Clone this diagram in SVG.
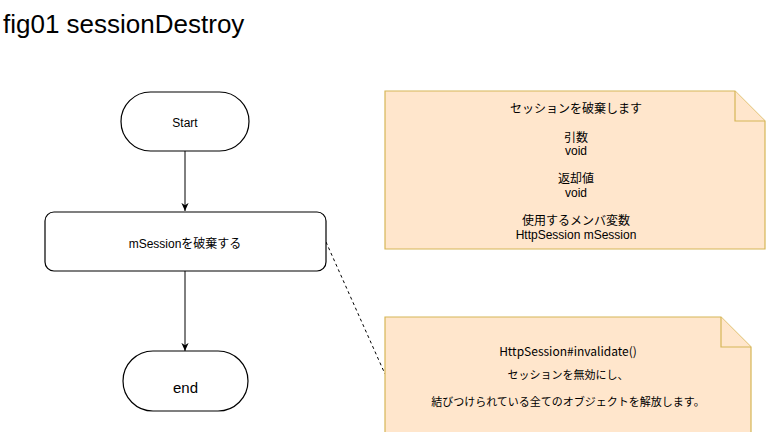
<svg xmlns="http://www.w3.org/2000/svg" width="766" height="432" viewBox="0 0 766 432">
<defs>
<style>
.t{font-family:"Liberation Sans","Noto Sans CJK JP",sans-serif;fill:#000;text-anchor:middle}
.j{font-family:"Noto Sans CJK JP",sans-serif;fill:#000;text-anchor:middle}
.node{fill:#fff;stroke:#000;stroke-width:1.2}
.note{fill:#ffe6cc;stroke:#d6b656;stroke-width:1.2}
.edge{fill:none;stroke:#000;stroke-width:1}
</style>
<marker id="arr" viewBox="0 0 10 10" refX="9" refY="5" markerWidth="9" markerHeight="9" markerUnits="userSpaceOnUse" orient="auto">
<path d="M0,1 L9,5 L0,9 L2.5,5 Z" fill="#000"/>
</marker>
</defs>
<rect width="766" height="432" fill="#fff"/>
<text x="3" y="33" font-family="Liberation Sans, sans-serif" font-size="26" fill="#000">fig01 sessionDestroy</text>

<g id="connectors">
<line class="edge" x1="185" y1="151" x2="185" y2="211" marker-end="url(#arr)"/>
<line class="edge" x1="185" y1="271" x2="185" y2="351" marker-end="url(#arr)"/>
<line class="edge" x1="326" y1="242" x2="385" y2="374" stroke-dasharray="3 3"/>
</g>

<g id="start">
<rect class="node" x="121" y="92" width="128" height="59" rx="29.5" ry="29.5"/>
<text class="t" x="185" y="126.5" font-size="12">Start</text>
</g>

<g id="process">
<rect class="node" x="45" y="212" width="281" height="59" rx="9" ry="9"/>
<text class="t" x="185" y="247.5" font-size="12">mSessionを破棄する</text>
</g>

<g id="end">
<rect class="node" x="123" y="351" width="125" height="60" rx="30" ry="30"/>
<text class="t" x="185.5" y="392.5" font-size="15">end</text>
</g>

<g id="note1">
<path class="note" d="M385,91 H735 L765,121 V249 H385 Z"/>
<path class="note" d="M735,91 V121 H765" fill="none"/>
<g class="t" font-size="12">
<text x="576" y="113">セッションを破棄します</text>
<text x="576" y="142">引数</text>
<text x="576" y="155">void</text>
<text x="576" y="183">返却値</text>
<text x="576" y="197">void</text>
<text x="576" y="225">使用するメンバ変数</text>
<text x="576" y="239">HttpSession mSession</text>
</g>
</g>

<g id="note2">
<path class="note" d="M385,317 H721 L751,347 V440 H385 Z"/>
<path class="note" d="M721,317 V347 H751" fill="none"/>
<g class="j" font-size="11">
<text x="568" y="356" font-size="12">HttpSession#invalidate()</text>
<text x="568" y="379">セッションを無効にし、</text>
<text x="568" y="406">結びつけられている全てのオブジェクトを解放します。</text>
</g>
</g>
</svg>
